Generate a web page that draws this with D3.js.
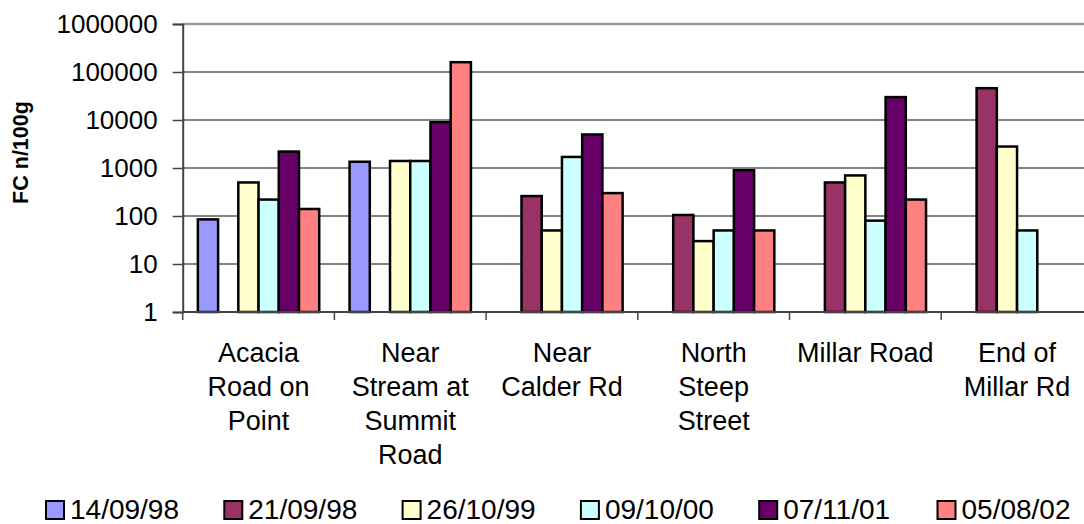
<!DOCTYPE html>
<html>
<head>
<meta charset="utf-8">
<script src="https://cdn.jsdelivr.net/npm/d3@7"></script>
<style>
  html, body { margin: 0; padding: 0; background: #fff; }
  svg { display: block; font-family: "Liberation Sans", Arial, sans-serif; }
</style>
</head>
<body>
<svg id="chart" width="1084" height="524"></svg>
<script>
// Sampling sites (each label split into its display lines)
const categories = [
  ["Acacia", "Road on", "Point"],
  ["Near", "Stream at", "Summit", "Road"],
  ["Near", "Calder Rd"],
  ["North", "Steep", "Street"],
  ["Millar Road"],
  ["End of", "Millar Rd"]
];

// Sampling dates
const seriesNames = ["14/09/98", "21/09/98", "26/10/99", "09/10/00", "07/11/01", "05/08/02"];

// Faecal coliform counts (n/100g) per site, one array per sampling date; null = not sampled
const s140998 = [85, 1350, null, null, null, null];
const s210998 = [null, null, 260, 105, 500, 46000];
const s261099 = [500, 1400, 50, 30, 700, 2800];
const s091000 = [220, 1400, 1700, 50, 80, 50];
const s071101 = [2200, 9000, 5000, 900, 30000, null];
const s050802 = [140, 160000, 300, 50, 220, null];

const seriesColors = ["#9999FF", "#993366", "#FFFFCC", "#CCFFFF", "#660066", "#FF8080"];

const yTicks = [1, 10, 100, 1000, 10000, 100000, 1000000];

const seriesValues = [s140998, s210998, s261099, s091000, s071101, s050802];

const svg = d3.select("#chart");

const plot = { left: 182.7, right: 1092.9, top: 24, bottom: 312 };

const catKeys = categories.map((c, i) => i);
const x = d3.scaleBand().domain(catKeys).range([plot.left, plot.right]).padding(0);
const xs = d3.scaleBand().domain(d3.range(seriesNames.length))
  .range([0, x.bandwidth()]).paddingInner(0).paddingOuter(0.75);
const y = d3.scaleLog().domain([1, 1000000]).range([plot.bottom, plot.top]);

// Horizontal gridlines
svg.append("g")
  .selectAll("line")
  .data(yTicks.filter(t => t > 1 && t < 1000000))
  .join("line")
  .attr("x1", plot.left).attr("x2", plot.right)
  .attr("y1", d => y(d)).attr("y2", d => y(d))
  .attr("stroke", "#5a5a5a").attr("stroke-width", 1.5);

// Plot area top border
svg.append("line")
  .attr("x1", plot.left).attr("x2", plot.right)
  .attr("y1", y(1000000)).attr("y2", y(1000000))
  .attr("stroke", "#9a9a9a").attr("stroke-width", 2.5);

// Bars
const groups = svg.append("g")
  .selectAll("g")
  .data(catKeys)
  .join("g")
  .attr("transform", d => `translate(${x(d)},0)`);

groups.selectAll("rect")
  .data(ci => seriesValues.map((vals, si) => ({ si, v: vals[ci] })).filter(d => d.v != null))
  .join("rect")
  .attr("x", d => xs(d.si))
  .attr("width", xs.bandwidth())
  .attr("y", d => y(d.v))
  .attr("height", d => y(1) - y(d.v))
  .attr("fill", d => seriesColors[d.si])
  .attr("stroke", "#000")
  .attr("stroke-width", 2.5);

// Y axis
const yAxis = d3.axisLeft(y)
  .tickValues(yTicks)
  .tickFormat(d3.format("d"))
  .tickSize(10)
  .tickPadding(15);

const yg = svg.append("g")
  .attr("transform", `translate(${plot.left},0)`)
  .call(yAxis);
yg.select(".domain").attr("stroke", "#444").attr("stroke-width", 2);
yg.selectAll(".tick line").attr("stroke", "#444").attr("stroke-width", 1.5);
yg.selectAll(".tick text")
  .attr("fill", "#000")
  .style("font-size", "26px")
  .style("font-family", "'Liberation Sans', Arial, sans-serif");

// X axis line with tick marks at category boundaries
svg.append("line")
  .attr("x1", plot.left).attr("x2", plot.right)
  .attr("y1", plot.bottom).attr("y2", plot.bottom)
  .attr("stroke", "#444").attr("stroke-width", 2);

svg.append("g")
  .selectAll("line")
  .data(catKeys.concat([categories.length]))
  .join("line")
  .attr("x1", d => d < categories.length ? x(d) : plot.right)
  .attr("x2", d => d < categories.length ? x(d) : plot.right)
  .attr("y1", plot.bottom).attr("y2", plot.bottom + 8)
  .attr("stroke", "#444").attr("stroke-width", 1.5);

// Category labels
const catLabels = svg.append("g")
  .selectAll("text")
  .data(catKeys)
  .join("text")
  .attr("x", d => x(d) + x.bandwidth() / 2)
  .attr("y", 361.7)
  .attr("text-anchor", "middle")
  .style("font-size", "27px")
  .attr("fill", "#000");

catLabels.selectAll("tspan")
  .data(d => categories[d])
  .join("tspan")
  .attr("x", function () { return d3.select(this.parentNode).attr("x"); })
  .attr("dy", (d, i) => i === 0 ? 0 : 34)
  .text(d => d);

// Y axis title
svg.append("text")
  .attr("transform", "translate(28.3,152.5) rotate(-90)")
  .attr("text-anchor", "middle")
  .style("font-size", "21.5px")
  .style("font-weight", "bold")
  .attr("fill", "#000")
  .text("FC  n/100g");

// Legend
const legend = svg.append("g")
  .selectAll("g")
  .data(seriesNames)
  .join("g")
  .attr("transform", (d, i) => `translate(${46 + i * 178.3},501)`);

legend.append("rect")
  .attr("width", 18).attr("height", 18)
  .attr("fill", (d, i) => seriesColors[i])
  .attr("stroke", "#000").attr("stroke-width", 2);

legend.append("text")
  .attr("x", 24)
  .attr("y", 17.5)
  .style("font-size", "28px")
  .attr("fill", "#000")
  .text(d => d);
</script>
</body>
</html>
